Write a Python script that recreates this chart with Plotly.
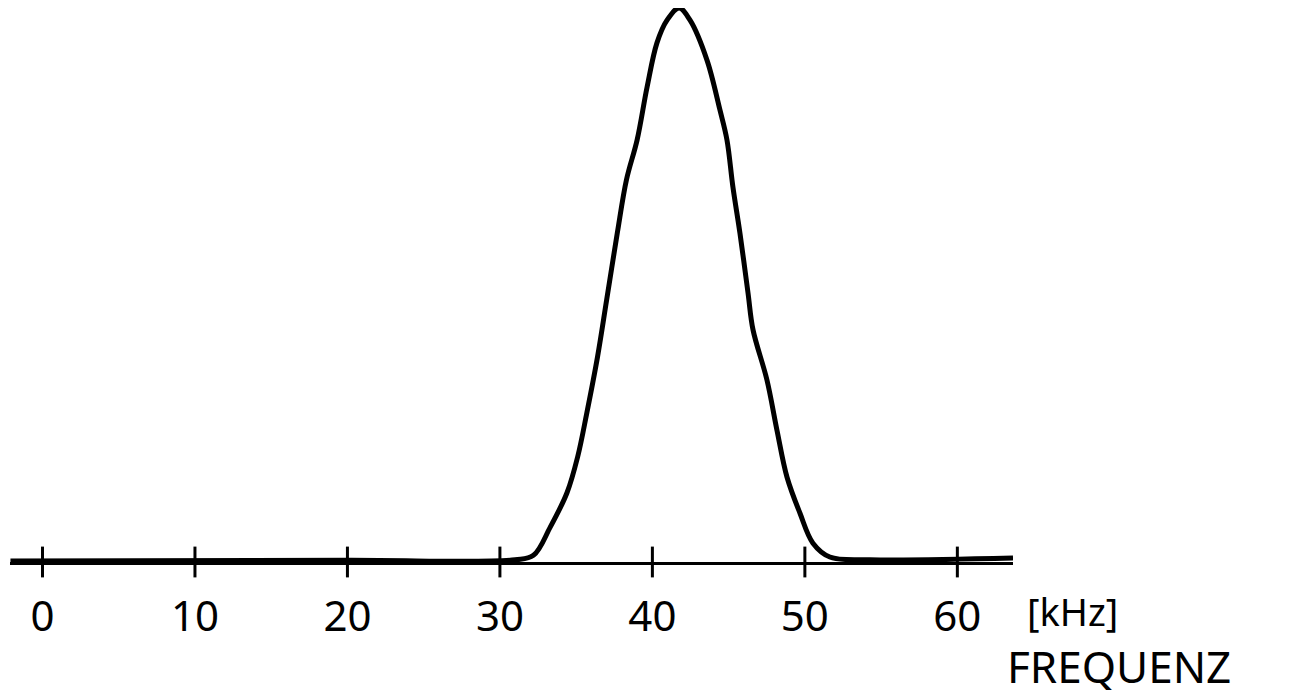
import plotly.graph_objects as go

# Frequency (kHz) and relative amplitude
freq_khz = [-2.1, 20.0, 31.0, 32.2, 33.3, 34.4, 35.1, 35.7, 36.4, 37.0, 37.7, 38.3,
            39.0, 39.65, 40.3, 40.96, 41.75, 42.47, 43.58, 44.43, 44.89, 45.28,
            45.74, 46.27, 46.6, 47.51, 48.17, 48.83, 49.68, 50.53, 51.64, 54.27,
            63.65]
amplitude = [0.002, 0.003, 0.004, 0.012, 0.063, 0.125, 0.19, 0.269, 0.37, 0.473,
             0.594, 0.69, 0.762, 0.857, 0.937, 0.978, 1.0, 0.978, 0.906, 0.816,
             0.762, 0.677, 0.594, 0.486, 0.419, 0.329, 0.238, 0.153, 0.088, 0.034,
             0.009, 0.004, 0.007]
tick_vals = [0, 10, 20, 30, 40, 50, 60]
tick_text = ["0", "10", "20", "30", "40", "50", "60"]
unit_label = "[kHz]"
axis_title = "FREQUENZ"

FONT = "Noto Sans"

fig = go.Figure()
fig.add_trace(go.Scatter(
    x=freq_khz, y=amplitude, mode="lines",
    line=dict(color="black", width=5, shape="spline", smoothing=1.0),
    cliponaxis=False, hoverinfo="skip", showlegend=False))
# crossing tick marks on the axis
fig.add_trace(go.Scatter(
    x=tick_vals, y=[0] * len(tick_vals), mode="markers",
    marker=dict(symbol="line-ns", size=22, line=dict(color="black", width=3)),
    cliponaxis=False, hoverinfo="skip", showlegend=False))

# the page body has an 8px margin, so the figure is sized to fit the window
fig.update_layout(
    width=1290, height=692,
    margin=dict(l=2, r=285, t=0, b=138, autoexpand=False),
    paper_bgcolor="white", plot_bgcolor="white",
    showlegend=False,
    xaxis=dict(range=[-2.13, 63.65], showgrid=False, zeroline=False,
               automargin=False,
               showline=True, linecolor="black", linewidth=3,
               tickvals=tick_vals, ticktext=tick_text, ticks="",
               ticklabelstandoff=16,
               tickfont=dict(family=FONT, size=42, color="black")),
    yaxis=dict(range=[0, 1.0], visible=False, automargin=False),
    annotations=[
        dict(text=unit_label, xref="paper", yref="paper", x=1.012, y=-0.088,
             xanchor="left", yanchor="middle", showarrow=False,
             font=dict(family=FONT, size=38, color="black")),
        dict(text=axis_title, xref="paper", yref="paper", x=0.992, y=-0.2455,
             xanchor="left", yanchor="bottom", showarrow=False,
             font=dict(family=FONT, size=44, color="black")),
    ],
)

fig.write_html("out.html")
